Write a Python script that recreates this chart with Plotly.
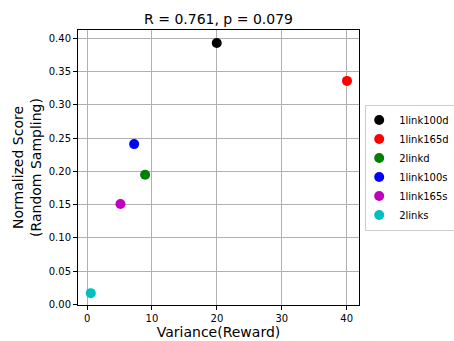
import plotly.graph_objects as go

# Per-environment summary: reward variance vs normalized score
names = ["1link100d", "1link165d", "2linkd", "1link100s", "1link165s", "2links"]
variance = [19.98, 40.05, 8.94, 7.25, 5.14, 0.57]
score = [0.393, 0.336, 0.195, 0.241, 0.151, 0.017]
colors = ["#000000", "#ff0000", "#008000", "#0000ff", "#bf00bf", "#00bfbf"]

x_ticks = [0, 10, 20, 30, 40]
y_ticks = [0.00, 0.05, 0.10, 0.15, 0.20, 0.25, 0.30, 0.35, 0.40]

font = "DejaVu Sans, Arial, sans-serif"

fig = go.Figure()
for n, xv, yv, c in zip(names, variance, score, colors):
    fig.add_trace(go.Scatter(
        x=[xv], y=[yv], mode="markers", name=n,
        marker=dict(color=c, size=10, line=dict(width=0)),
    ))

axis_common = dict(
    showgrid=True, gridcolor="#b0b0b0", gridwidth=1,
    showline=True, linecolor="black", linewidth=1, mirror=True,
    ticks="outside", ticklen=4, tickcolor="black",
    zeroline=False, automargin=False,
    tickfont=dict(family=font, size=10, color="black"),
)

fig.update_layout(
    width=454, height=341,
    margin=dict(l=78, r=95, t=30, b=36, autoexpand=False),
    paper_bgcolor="white", plot_bgcolor="white",
    font=dict(family=font, color="black"),
    title=dict(text="R = 0.761, p = 0.079", x=(78 + 359) / 2 / 454, xanchor="center",
               y=1 - 19 / 341, yanchor="middle",
               font=dict(family=font, size=14, color="black")),
    xaxis=dict(axis_common, range=[-1.4, 41.9], tickvals=x_ticks,
               ticktext=[str(v) for v in x_ticks],
               title=dict(text="Variance(Reward)", standoff=3,
                          font=dict(family=font, size=14))),
    yaxis=dict(axis_common, range=[-0.0008, 0.4125], tickvals=y_ticks,
               ticktext=[f"{v:.2f}" for v in y_ticks],
               title=dict(text="Normalized Score<br>(Random Sampling)", standoff=3,
                          font=dict(family=font, size=14))),
    legend=dict(x=1.022, y=0.5, xanchor="left", yanchor="middle",
                bgcolor="white", bordercolor="#cccccc", borderwidth=1,
                font=dict(family=font, size=10, color="black"),
                itemwidth=30, tracegroupgap=0, indentation=-7),
    showlegend=True,
)

fig.write_html("out.html")
